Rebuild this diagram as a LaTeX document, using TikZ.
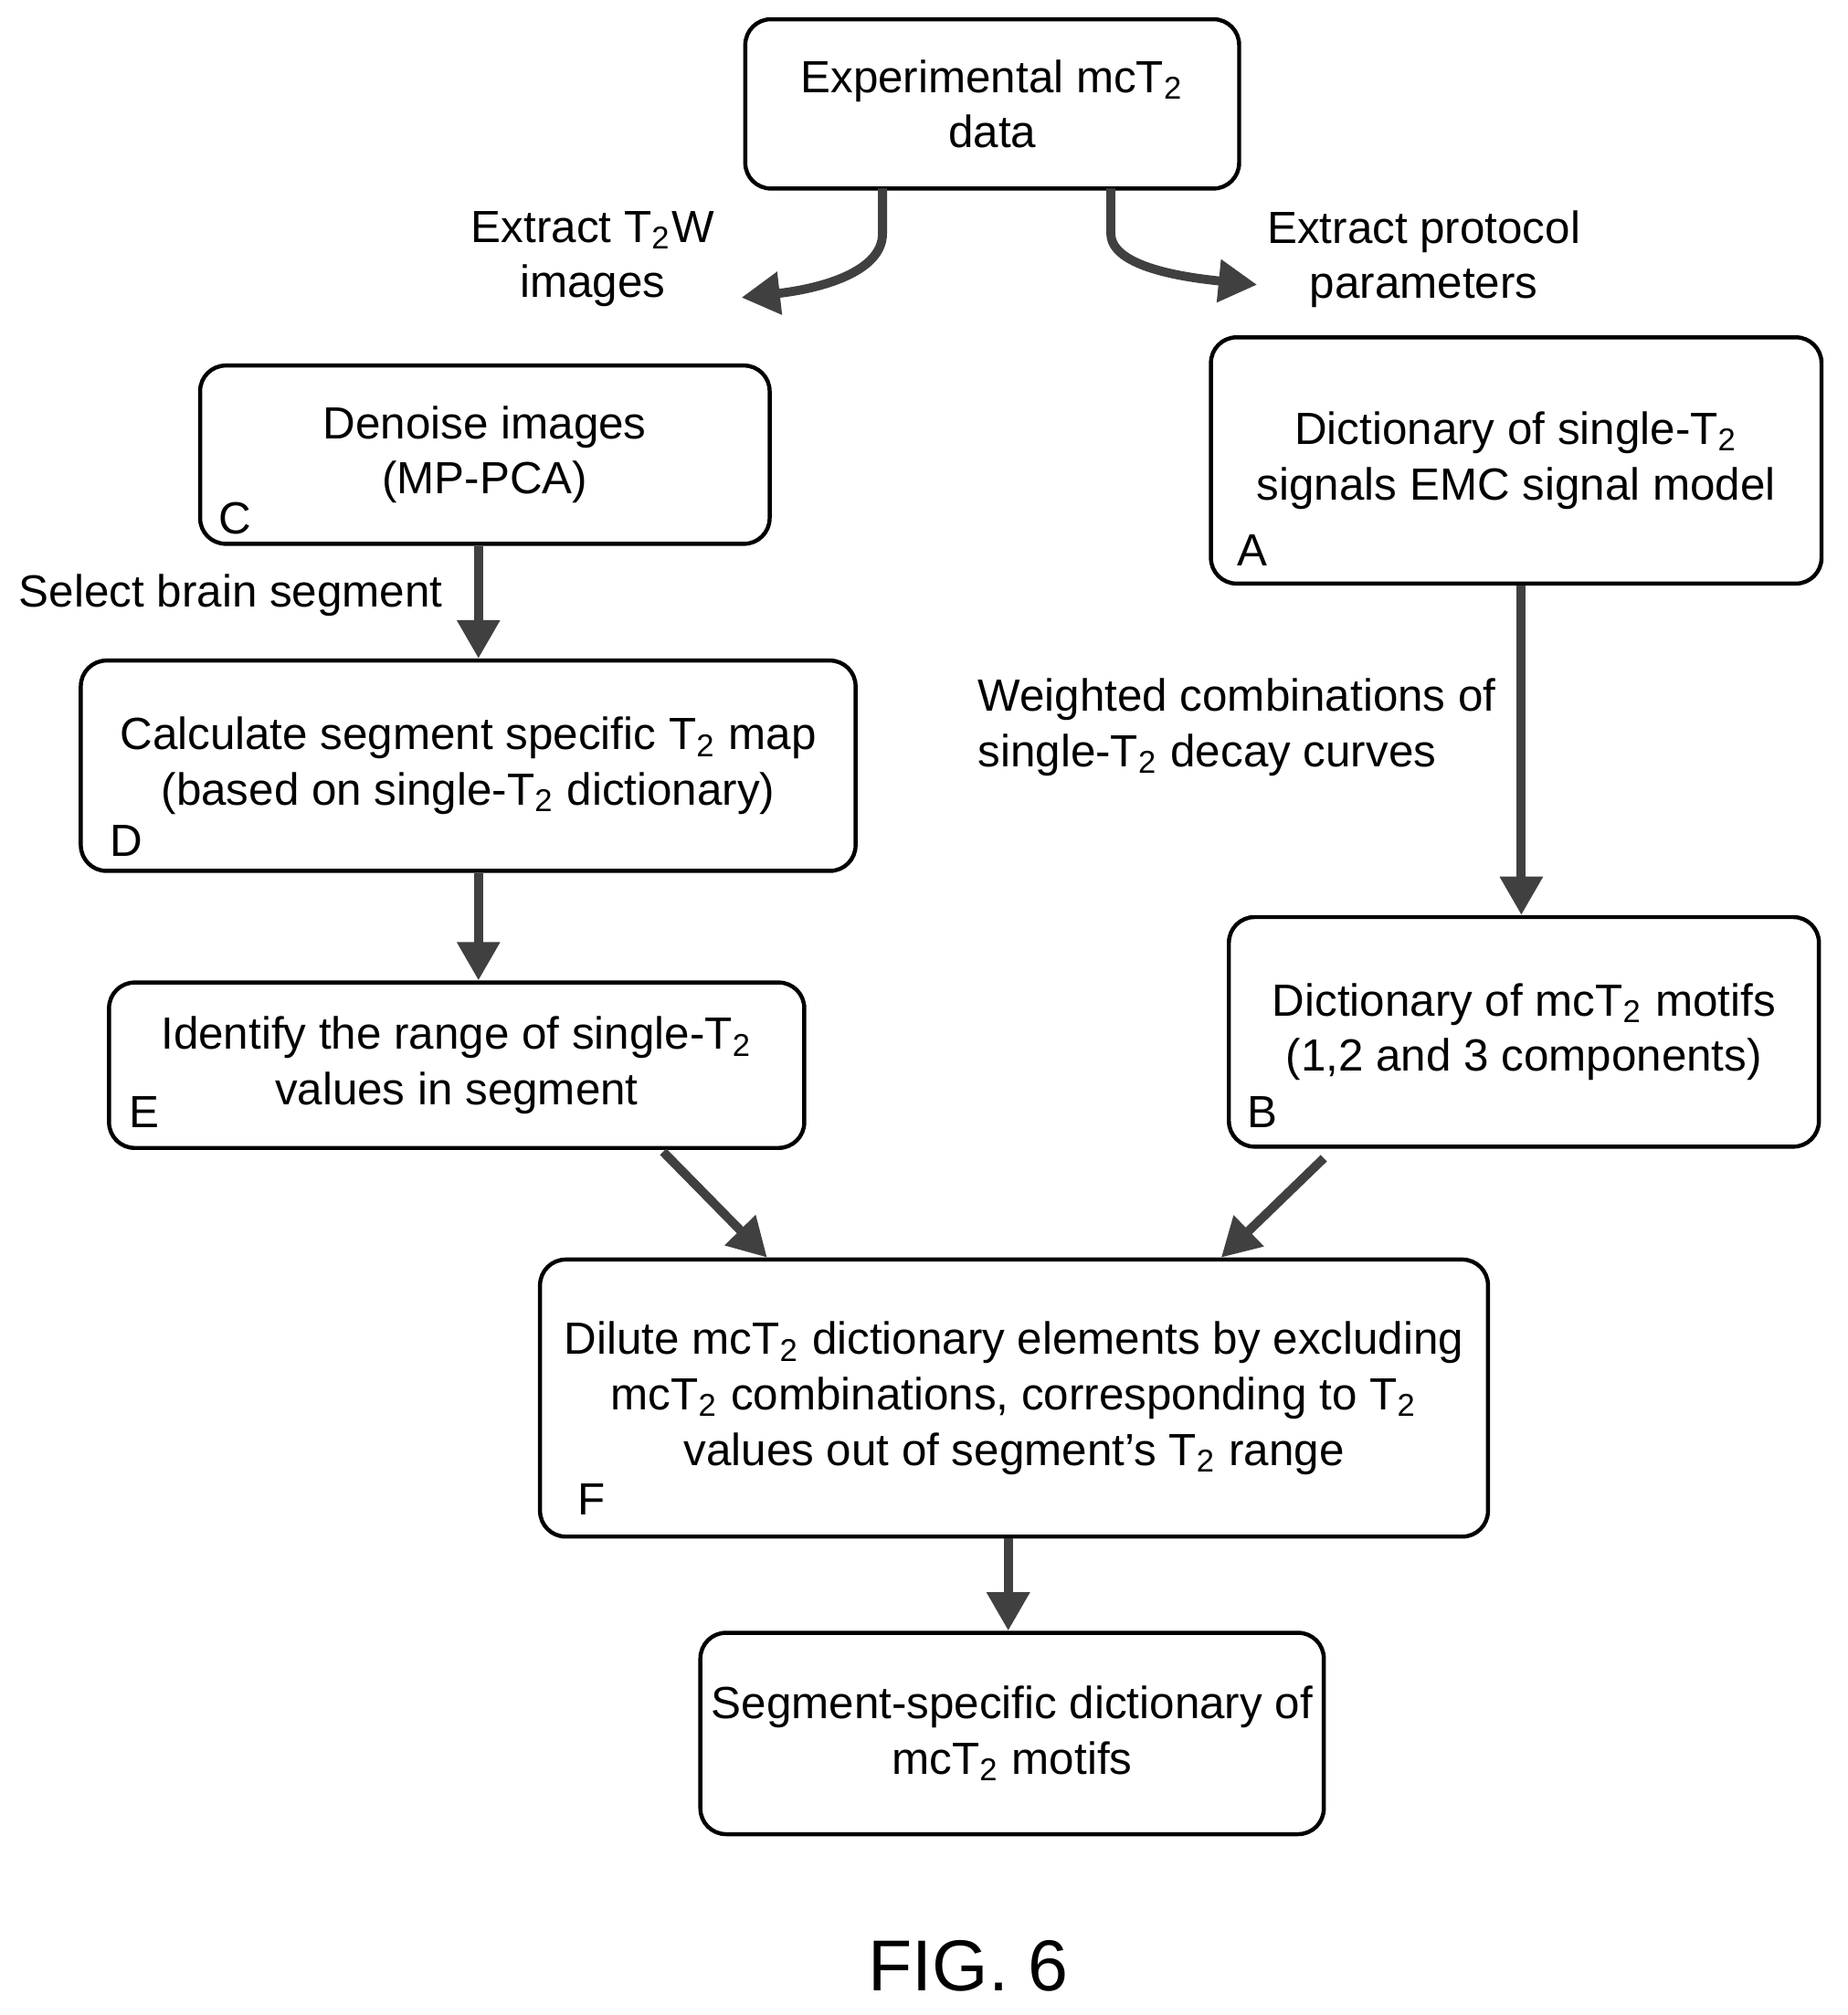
\documentclass[tikz,border=0pt]{standalone}
\usepackage{fontspec}
\setmainfont{Liberation Sans}
\usetikzlibrary{arrows.meta}
\tikzset{
  box/.style={draw, rounded corners=0.2cm, line width=0.9pt, align=center, inner sep=0pt},
  lbl/.style={align=center},
  tag/.style={anchor=south west, inner sep=0pt},
  flow/.style={-{Triangle[length=0.3cm,width=0.32cm]}, line width=0.07cm, draw=black!75},
}
\newcommand{\sub}{\textsubscript{2}}
\begin{document}
\begin{tikzpicture}[font=\fontsize{10}{12.3}\selectfont]
  \useasboundingbox (0,0) rectangle (14.4,-15.71);
  % boxes
  \node[box, minimum width=3.85cm, minimum height=1.32cm] at (7.735,-0.81) (data) {Experimental mcT\sub\\data};
  \node[box, minimum width=4.44cm, minimum height=1.39cm] at (3.78,-3.545) (denoise) {Denoise images\\(MP-PCA)};
  \node[box, minimum width=4.76cm, minimum height=1.92cm] at (11.82,-3.59) (single) {Dictionary of single-T\sub\\signals EMC signal model};
  \node[box, minimum width=6.04cm, minimum height=1.64cm] at (3.65,-5.97) (tmap) {Calculate segment specific T\sub{} map\\(based on single-T\sub{} dictionary)};
  \node[box, minimum width=5.42cm, minimum height=1.29cm] at (3.56,-8.305) (range) {Identify the range of single-T\sub\\values in segment};
  \node[box, minimum width=4.60cm, minimum height=1.79cm] at (11.88,-8.045) (motifs) {Dictionary of mcT\sub{} motifs\\(1,2 and 3 components)};
  \node[box, minimum width=7.39cm, minimum height=2.16cm] at (7.905,-10.9) (dilute) {Dilute mcT\sub{} dictionary elements by excluding\\mcT\sub{} combinations, corresponding to T\sub\\values out of segment's T\sub{} range};
  \node[box, minimum width=4.86cm, minimum height=1.57cm] at (7.89,-13.515) (result) {Segment-specific dictionary of\\mcT\sub{} motifs};
  % letters
  \node[tag] at (1.70,-4.17) (tc) {C};
  \node[tag] at (9.64,-4.42) (ta) {A};
  \node[tag] at (0.85,-6.68) (td) {D};
  \node[tag] at (1.00,-8.80) (te) {E};
  \node[tag] at (9.72,-8.80) (tb) {B};
  \node[tag] at (4.50,-11.82) (tf) {F};
  % labels
  \node[lbl] at (4.62,-2.02) (lt2w) {Extract T\sub W\\images};
  \node[lbl] at (11.10,-2.02) (lproto) {Extract protocol\\parameters};
  \node[lbl] at (1.80,-4.64) (lseg) {Select brain segment};
  \node[lbl, align=left, anchor=west] at (7.50,-5.67) (lweight) {Weighted combinations of\\single-T\sub{} decay curves};
  \node at (7.55,-15.33) (fig) {\fontsize{16}{18}\selectfont FIG. 6};
  % arrows
  \coordinate (l0) at (6.88,-1.47);
  \coordinate (l1) at (5.78,-2.32);
  \coordinate (r0) at (8.66,-1.47);
  \coordinate (r1) at (9.80,-2.22);
  \draw[flow] (l0) -- ++(0,-0.35) .. controls (6.88,-2.12) and (6.4,-2.25) .. (l1);
  \draw[flow] (r0) -- ++(0,-0.35) .. controls (8.66,-2.05) and (9.1,-2.15) .. (r1);
  \draw[flow] (denoise.south -| 3.73,0) -- (tmap.north -| 3.73,0);
  \draw[flow] (tmap.south -| 3.73,0) -- (range.north -| 3.73,0);
  \draw[flow] (single.south -| 11.86,0) -- (motifs.north -| 11.86,0);
  \coordinate (e0) at (5.17,-8.98);
  \coordinate (b0) at (10.32,-9.03);
  \draw[flow] (e0) -- (dilute.north -| 5.98,0);
  \draw[flow] (b0) -- (dilute.north -| 9.52,0);
  \draw[flow] (dilute.south -| 7.86,0) -- (result.north -| 7.86,0);
\end{tikzpicture}
\end{document}
